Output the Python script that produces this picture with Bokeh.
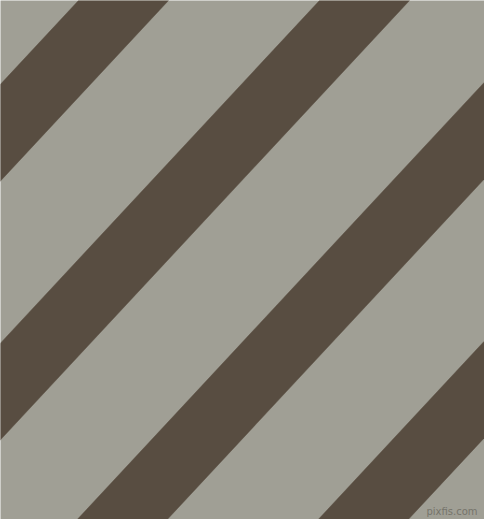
from bokeh.plotting import figure
from bokeh.models import Range1d, ColumnDataSource
from bokeh.embed import file_html
from bokeh.resources import INLINE
from bokeh.core.properties import value

# Stripe data: x-intercept (at top edge) of each dark band, band width, slope
stripe_starts = [78, 319, 560, 801]
stripe_width = 90
slope = 1.074  # dy/dx of the stripes
W, H = 484, 519
bg_color = "#A09F95"
stripe_color = "#584D41"
watermark = ["pixfis.com"]

xs, ys = [], []
for a in stripe_starts:
    dx = H / slope
    xs.append([a, a + stripe_width, a + stripe_width - dx, a - dx])
    ys.append([0, 0, H, H])

p = figure(width=W, height=H, x_range=Range1d(0, W), y_range=Range1d(H, 0),
           output_backend="svg", toolbar_location=None, min_border=0,
           background_fill_color=bg_color, border_fill_color=bg_color)
p.axis.visible = False
p.grid.visible = False
p.outline_line_color = None

p.patches(xs=xs, ys=ys, fill_color=stripe_color, line_color=stripe_color, line_width=0.5)

p.text(x=[W - 7], y=[H - 3], text=watermark, text_align="right", text_baseline="bottom",
       text_font=value("DejaVu Sans"), text_font_size="10px", text_color="#76746b")

html = file_html(p, INLINE)
html = html.replace("<head>", "<head><style>html,body{margin:0;padding:0;overflow:hidden;}</style>", 1)
open("out.html", "w").write(html)
